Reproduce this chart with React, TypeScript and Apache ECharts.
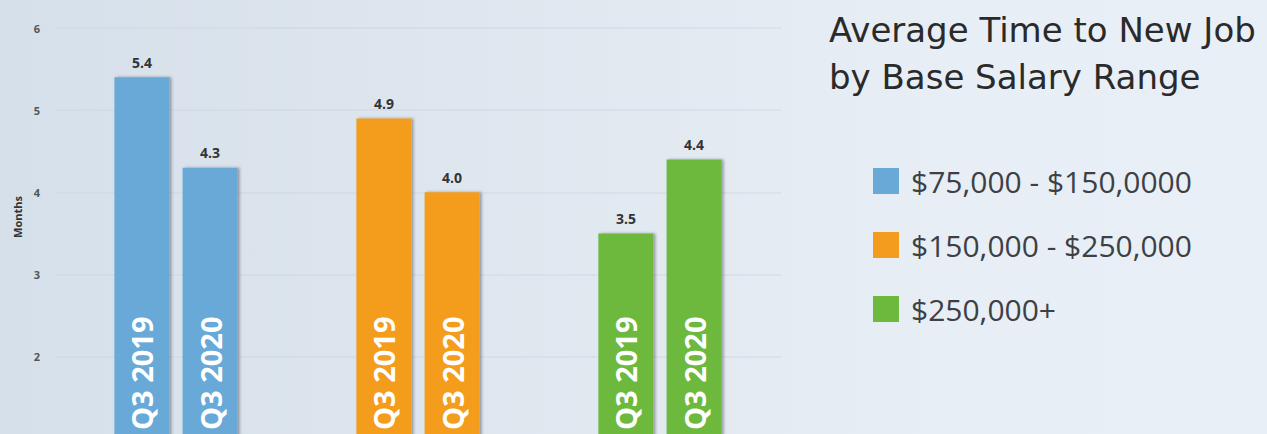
import React, { useEffect, useRef } from "react";
import * as echarts from "echarts";

const categories = ["$75,000 - $150,0000", "$150,000 - $250,000", "$250,000+"];
const periods = ["Q3 2019", "Q3 2020"];
const q3_2019 = [5.4, 4.9, 3.5];
const q3_2020 = [4.3, 4.0, 4.4];
const colors = ["#68a9d8", "#f49c1e", "#6cb93e"];
const yMin = 0;
const yMax = 6;
const yInterval = 1;
const titleText = "Average Time to New Job\nby Base Salary Range";
const yAxisTitle = "Months";

export default function App() {
  const ref = useRef<HTMLDivElement>(null);

  useEffect(() => {
    if (!ref.current) return;
    const chart = echarts.init(ref.current, undefined, { renderer: "svg" });
    const valueSets = [q3_2019, q3_2020];

    const barSeries: any[] = [];
    valueSets.forEach((vals, si) => {
      barSeries.push({
        type: "bar",
        name: periods[si],
        stack: "p" + si,
        barWidth: 55,
        barGap: "24%",
        data: vals.map((v, i) => ({ value: v, itemStyle: { color: colors[i] } })),
        itemStyle: {
          shadowColor: "rgba(0,0,0,0.35)",
          shadowBlur: 3,
          shadowOffsetX: 2,
          shadowOffsetY: 0,
        },
        label: {
          show: true,
          position: "insideBottom",
          rotate: 90,
          align: "left",
          verticalAlign: "middle",
          distance: 91,
          formatter: () => periods[si],
          color: "#ffffff",
          fontSize: 29,
          fontWeight: "bold",
          fontFamily: "Open Sans",
        },
      });
      barSeries.push({
        type: "bar",
        name: periods[si] + " value",
        stack: "p" + si,
        barWidth: 55,
        barGap: "24%",
        data: vals.map(() => 0),
        itemStyle: { color: "transparent" },
        label: {
          show: true,
          position: "top",
          distance: 8,
          formatter: (p: any) => vals[p.dataIndex].toFixed(1),
          color: "#333333",
          fontSize: 14,
          fontWeight: "bold",
          fontFamily: "Open Sans",
        },
      });
    });

    const legendSeries = categories.map((c, i) => ({
      type: "line",
      name: c,
      data: [],
      itemStyle: { color: colors[i] },
      lineStyle: { color: colors[i] },
    }));

    chart.setOption({
      animation: false,
      backgroundColor: "transparent",
      title: {
        text: titleText,
        left: 824,
        top: 1,
        textStyle: {
          fontSize: 34,
          fontWeight: "normal",
          color: "#2a2a2a",
          lineHeight: 47,
          fontFamily: "DejaVu Sans",
        },
      },
      legend: {
        orient: "vertical",
        left: 868,
        top: 161,
        itemWidth: 26,
        itemHeight: 26,
        itemGap: 34,
        icon: "rect",
        selectedMode: false,
        data: categories,
        textStyle: {
          fontSize: 30,
          color: "#3d4044",
          fontFamily: "Open Sans",
          padding: [0, 0, 0, 7],
        },
      },
      grid: {
        left: 55,
        right: 486,
        top: 28,
        bottom: -87,
        outerBoundsMode: "none",
        containLabel: false,
      },
      xAxis: {
        type: "category",
        data: categories,
        axisLine: { show: false },
        axisTick: { show: false },
        axisLabel: { show: false },
      },
      yAxis: {
        type: "value",
        min: yMin,
        max: yMax,
        interval: yInterval,
        axisLine: { show: false },
        axisTick: { show: false },
        axisLabel: {
          margin: 15,
          fontSize: 11,
          fontWeight: "bold",
          color: "#555555",
          fontFamily: "Open Sans",
        },
        splitLine: { lineStyle: { color: "rgba(200,210,222,0.35)", width: 2 } },
      },
      graphic: [
        {
          type: "text",
          x: 17,
          y: 217,
          rotation: Math.PI / 2,
          style: {
            text: yAxisTitle,
            fontSize: 11,
            fontWeight: "bold",
            fill: "#333333",
            fontFamily: "Open Sans",
            align: "center",
            verticalAlign: "middle",
          },
        },
      ],
      series: [...barSeries, ...legendSeries],
    });

    return () => chart.dispose();
  }, []);

  return (
    <div
      style={{
        position: "fixed",
        left: 0,
        top: 0,
        width: 1267,
        height: 434,
        background: "linear-gradient(90deg, #d6e0ea 0%, #e0e8f0 45%, #e8eef5 75%, #e9eff6 100%)",
      }}
    >
      <div ref={ref} style={{ width: 1267, height: 434 }} />
    </div>
  );
}
